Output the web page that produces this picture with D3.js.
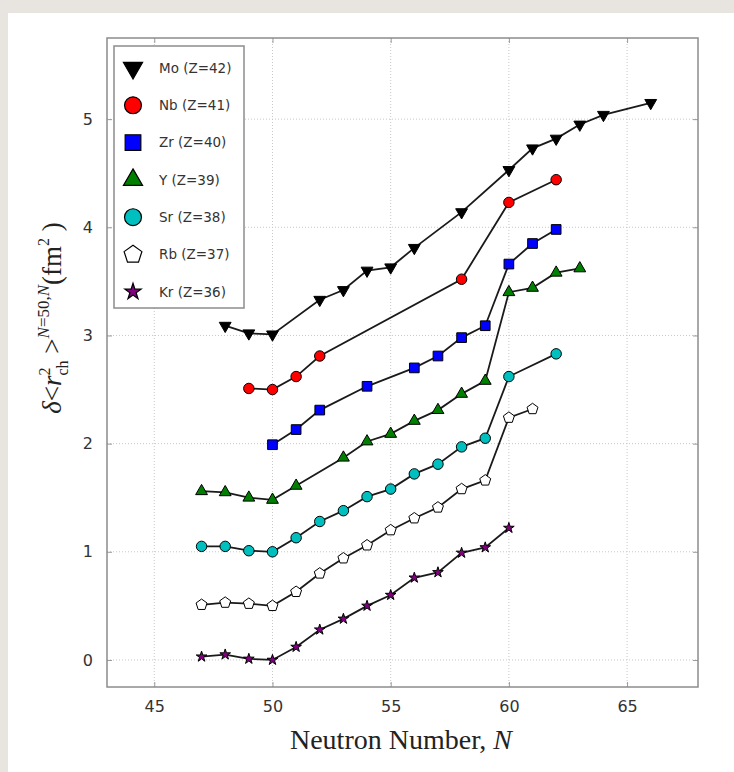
<!DOCTYPE html>
<html>
<head>
<meta charset="utf-8">
<script src="https://cdn.jsdelivr.net/npm/d3@7"></script>
<style>
  body { margin: 0; background: #e8e5e1; }
  svg { display: block; }
</style>
</head>
<body>
<svg id="chart"></svg>
<script>
// datos
var moN = [48, 49, 50, 52, 53, 54, 55, 56, 58, 60, 61, 62, 63, 64, 66];
var moV = [3.09, 3.02, 3.01, 3.33, 3.42, 3.60, 3.63, 3.81, 4.14, 4.53, 4.73, 4.82, 4.95, 5.04, 5.15];
var nbN = [49, 50, 51, 52, 58, 60, 62];
var nbV = [2.51, 2.50, 2.62, 2.81, 3.52, 4.23, 4.44];
var zrN = [50, 51, 52, 54, 56, 57, 58, 59, 60, 61, 62];
var zrV = [1.99, 2.13, 2.31, 2.53, 2.70, 2.81, 2.98, 3.09, 3.66, 3.85, 3.98];
var yN = [47, 48, 49, 50, 51, 53, 54, 55, 56, 57, 58, 59, 60, 61, 62, 63];
var yV = [1.56, 1.55, 1.50, 1.48, 1.61, 1.87, 2.02, 2.09, 2.21, 2.31, 2.46, 2.58, 3.40, 3.44, 3.58, 3.62];
var srN = [47, 48, 49, 50, 51, 52, 53, 54, 55, 56, 57, 58, 59, 60, 62];
var srV = [1.05, 1.05, 1.01, 1.00, 1.13, 1.28, 1.38, 1.51, 1.58, 1.72, 1.81, 1.97, 2.05, 2.62, 2.83];
var rbN = [47, 48, 49, 50, 51, 52, 53, 54, 55, 56, 57, 58, 59, 60, 61];
var rbV = [0.51, 0.53, 0.52, 0.50, 0.63, 0.80, 0.94, 1.06, 1.20, 1.31, 1.41, 1.58, 1.66, 2.24, 2.32];
var krN = [47, 48, 49, 50, 51, 52, 53, 54, 55, 56, 57, 58, 59, 60];
var krV = [0.03, 0.05, 0.01, 0.00, 0.12, 0.28, 0.38, 0.50, 0.60, 0.76, 0.81, 0.99, 1.04, 1.22];

var labels = ["Mo (Z=42)", "Nb (Z=41)", "Zr (Z=40)", "Y (Z=39)", "Sr (Z=38)", "Rb (Z=37)", "Kr (Z=36)"];
var xTicks = [45, 50, 55, 60, 65];
var yTicks = [0, 1, 2, 3, 4, 5];

// series: datos, color, marcador
var series = [
  { n: moN, v: moV, fill: "#000000", shape: "down" },
  { n: nbN, v: nbV, fill: "#ff0000", shape: "circle" },
  { n: zrN, v: zrV, fill: "#0000ff", shape: "square" },
  { n: yN,  v: yV,  fill: "#008000", shape: "up" },
  { n: srN, v: srV, fill: "#00bfbf", shape: "circle" },
  { n: rbN, v: rbV, fill: "#ffffff", shape: "pentagon" },
  { n: krN, v: krV, fill: "#800080", shape: "star" }
];

var W = 734, H = 772;
var pL = 107, pT = 38, pR = 698, pB = 687;

var svg = d3.select("#chart").attr("width", W).attr("height", H);

// panel blanco
svg.append("rect").attr("x", 8).attr("y", 13).attr("width", W - 8).attr("height", H - 13).attr("fill", "#fff");

var x = d3.scaleLinear().domain([43, 68]).range([pL, pR]);
var y = d3.scaleLinear().domain([-0.25, 5.75]).range([pB, pT]);

// rejilla
var grid = svg.append("g").attr("stroke", "#c8c8c8").attr("stroke-width", 1).attr("stroke-dasharray", "1,2");
grid.selectAll(".gx").data(xTicks).enter().append("line")
  .attr("x1", function(d) { return x(d); }).attr("x2", function(d) { return x(d); })
  .attr("y1", pT).attr("y2", pB);
grid.selectAll(".gy").data(yTicks).enter().append("line")
  .attr("x1", pL).attr("x2", pR)
  .attr("y1", function(d) { return y(d); }).attr("y2", function(d) { return y(d); });

// ejes
svg.append("g").attr("transform", "translate(0," + pB + ")")
  .call(d3.axisBottom(x).tickValues(xTicks).tickSize(-5).tickPadding(14).tickFormat(d3.format("d")));
svg.append("g").attr("transform", "translate(" + pL + ",0)")
  .call(d3.axisLeft(y).tickValues(yTicks).tickSize(-5).tickPadding(14).tickFormat(d3.format("d")));
svg.append("g").attr("transform", "translate(0," + pT + ")")
  .call(d3.axisTop(x).tickValues(xTicks).tickSize(-5).tickFormat(""));
svg.append("g").attr("transform", "translate(" + pR + ",0)")
  .call(d3.axisRight(y).tickValues(yTicks).tickSize(-5).tickFormat(""));
svg.selectAll(".domain").attr("stroke", "none");
svg.selectAll(".tick line").attr("stroke", "#999");
svg.selectAll(".tick text").attr("fill", "#333").style("font-family", "DejaVu Sans").style("font-size", "16px");

svg.append("rect").attr("x", pL).attr("y", pT).attr("width", pR - pL).attr("height", pB - pT)
  .attr("fill", "none").attr("stroke", "#8c8c8c").attr("stroke-width", 1.5);

// marcadores
function pentagon(r) {
  var p = [];
  for (var k = 0; k < 5; k++) {
    var a = -Math.PI / 2 + k * 2 * Math.PI / 5;
    p.push([r * Math.cos(a), r * Math.sin(a)]);
  }
  return "M" + p.join("L") + "Z";
}
function markerPath(shape, s) {
  if (shape == "circle") return d3.symbol(d3.symbolCircle, s * s * 0.78)();
  if (shape == "square") return d3.symbol(d3.symbolSquare, s * s * 0.85)();
  if (shape == "up" || shape == "down") return d3.symbol(d3.symbolTriangle, s * s * 0.55)();
  if (shape == "star") return d3.symbol(d3.symbolStar, s * s * 0.32)();
  return pentagon(s * 0.55);
}

var line = d3.line().x(function(d) { return x(d[0]); }).y(function(d) { return y(d[1]); });

series.forEach(function(s) {
  var pts = s.n.map(function(n, i) { return [n, s.v[i]]; });
  svg.append("path").datum(pts).attr("d", line)
    .attr("fill", "none").attr("stroke", "#1a1a1a").attr("stroke-width", 1.8);
  svg.append("g").selectAll("path").data(pts).enter().append("path")
    .attr("d", markerPath(s.shape, 10.5))
    .attr("transform", function(d) {
      return "translate(" + x(d[0]) + "," + y(d[1]) + ")" + (s.shape == "down" ? " rotate(180)" : "");
    })
    .attr("fill", s.fill).attr("stroke", "#000").attr("stroke-width", 1);
});

// leyenda
var leg = svg.append("g");
leg.append("rect").attr("x", 114).attr("y", 46).attr("width", 130).attr("height", 262)
  .attr("fill", "#fff").attr("stroke", "#8c8c8c").attr("stroke-width", 1.5);
series.forEach(function(s, i) {
  var ly = 68 + i * 37.3;
  leg.append("path").attr("d", markerPath(s.shape, s.shape == "star" ? 16 : 17))
    .attr("transform", "translate(133," + ly + ")" + (s.shape == "down" ? " rotate(180)" : ""))
    .attr("fill", s.fill).attr("stroke", "#000").attr("stroke-width", 1.2);
  leg.append("text").attr("x", 159).attr("y", ly).attr("dy", "0.35em")
    .attr("fill", "#333").style("font-family", "DejaVu Sans").style("font-size", "13.5px")
    .text(labels[i]);
});

// etiquetas de ejes
svg.append("text").attr("x", 401).attr("y", 749).attr("text-anchor", "middle")
  .style("font-family", "Liberation Serif").style("font-size", "28px").attr("fill", "#222")
  .text("Neutron Number, ").append("tspan").style("font-style", "italic").text("N");

var yl = svg.append("text").attr("transform", "translate(61,318) rotate(-90)").attr("text-anchor", "middle")
  .style("font-family", "Liberation Serif").style("font-size", "27px").attr("fill", "#222");
yl.append("tspan").style("font-style", "italic").text("δ");
yl.append("tspan").text("<");
yl.append("tspan").style("font-style", "italic").text("r");
yl.append("tspan").attr("dy", -11).style("font-size", "16px").text("2");
yl.append("tspan").attr("dx", -8).attr("dy", 18).style("font-size", "16px").text("ch");
yl.append("tspan").attr("dy", -7).text(" >");
yl.append("tspan").attr("dy", -12).style("font-size", "17px").style("font-style", "italic").text("N");
yl.append("tspan").style("font-size", "17px").text("=50,");
yl.append("tspan").style("font-size", "17px").style("font-style", "italic").text("N");
yl.append("tspan").attr("dy", 12).text("(fm");
yl.append("tspan").attr("dy", -12).style("font-size", "16px").text("2");
yl.append("tspan").attr("dy", 12).text(" )");
</script>
</body>
</html>
